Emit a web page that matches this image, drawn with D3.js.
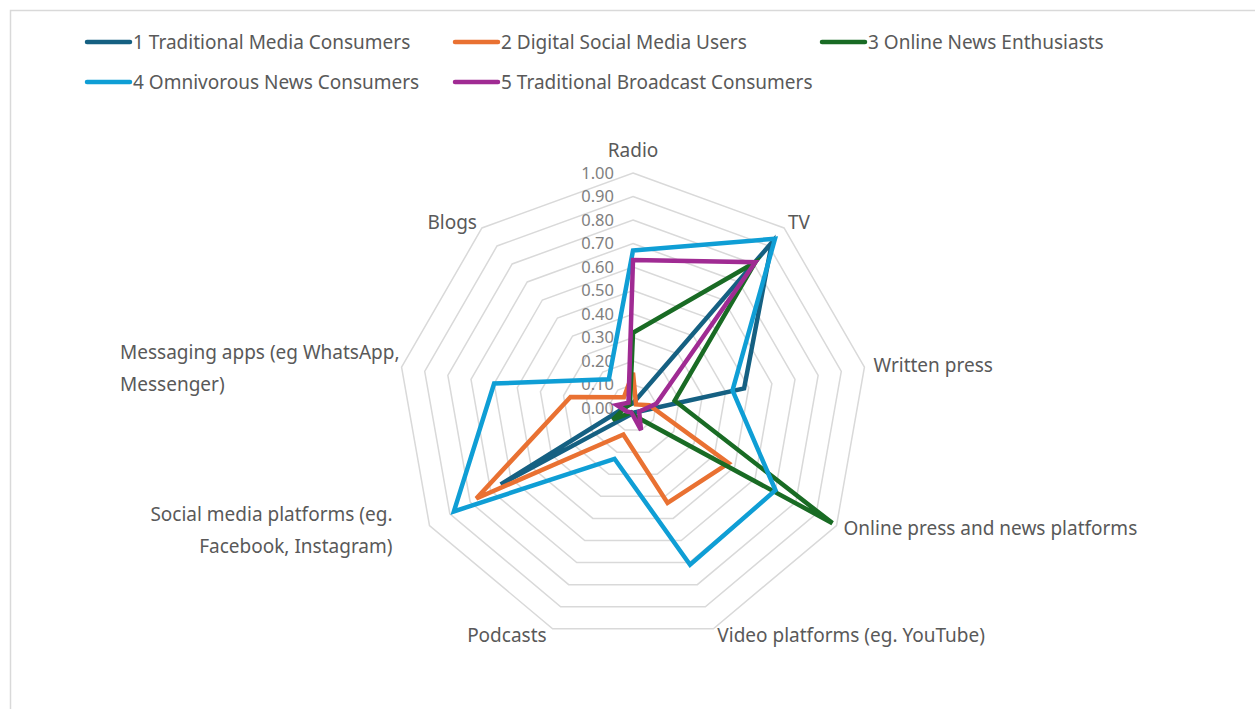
<!DOCTYPE html>
<html>
<head>
<meta charset="utf-8">
<script src="https://cdn.jsdelivr.net/npm/d3@7"></script>
<style>
  body { margin: 0; background: #fff; }
  text { font-family: "Noto Sans", "Open Sans", sans-serif; }
</style>
</head>
<body>
<div id="chart-area"></div>
<script>
// axes, clockwise from the top
var axes = ["Radio", "TV", "Written press", "Online press and news platforms",
  "Video platforms (eg. YouTube)", "Podcasts",
  "Social media platforms (eg.|Facebook, Instagram)",
  "Messaging apps (eg WhatsApp,|Messenger)", "Blogs"];

var seriesNames = ["1 Traditional Media Consumers", "2 Digital Social Media Users",
  "3 Online News Enthusiasts", "4 Omnivorous News Consumers",
  "5 Traditional Broadcast Consumers"];

var tradMedia     = [0.02, 0.92, 0.48, 0.03, 0.02, 0.03, 0.65, 0.03, 0.02];
var digitalSocial = [0.15, 0.02, 0.07, 0.47, 0.43, 0.12, 0.77, 0.27, 0.06];
var onlineNews    = [0.32, 0.81, 0.18, 0.98, 0.04, 0.02, 0.10, 0.03, 0.02];
var omnivorous    = [0.67, 0.94, 0.43, 0.70, 0.71, 0.23, 0.88, 0.60, 0.16];
var tradBroadcast = [0.63, 0.81, 0.10, 0.03, 0.10, 0.02, 0.03, 0.07, 0.03];

var tickValues = [0, 0.1, 0.2, 0.3, 0.4, 0.5, 0.6, 0.7, 0.8, 0.9, 1.0];

var seriesValues = [tradMedia, digitalSocial, onlineNews, omnivorous, tradBroadcast];
var colors = ["#156082", "#E97132", "#196B24", "#0F9ED5", "#A02B93"];

var width = 1255, height = 709;
var cx = 633, cy = 408, R = 235;

var svg = d3.select("#chart-area")
  .append("svg")
    .attr("width", width)
    .attr("height", height);

// chart frame
svg.append("rect")
  .attr("x", 10.5).attr("y", 10.5)
  .attr("width", 1400).attr("height", 900)
  .style("fill", "none")
  .attr("stroke", "#d9d9d9")
  .attr("stroke-width", 1.5);

var r = d3.scaleLinear().domain([0, 1]).range([0, R]);
var angle = d3.scalePoint().domain(d3.range(axes.length)).range([0, 2 * Math.PI * (axes.length - 1) / axes.length]);

var g = svg.append("g").attr("transform", "translate(" + cx + "," + cy + ")");

var radial = d3.lineRadial()
  .angle(function(d, i) { return angle(i); })
  .radius(function(d) { return r(d); })
  .curve(d3.curveLinearClosed);

// grid rings
g.append("g").selectAll("path")
  .data(tickValues.filter(function(t) { return t > 0; }))
  .enter()
  .append("path")
    .attr("d", function(t) { return radial(axes.map(function() { return t; })); })
    .style("fill", "none")
    .attr("stroke", "#d9d9d9")
    .attr("stroke-width", 1.5);

// tick labels
g.append("g").selectAll("text")
  .data(tickValues)
  .enter()
  .append("text")
    .attr("x", -19)
    .attr("y", function(t) { return -r(t); })
    .attr("dy", "0.35em")
    .attr("text-anchor", "end")
    .style("font-size", "16.5px")
    .style("fill", "#7f7f7f")
    .text(function(t) { return t.toFixed(2); });

// series
g.append("g").selectAll("path")
  .data(seriesValues)
  .enter()
  .append("path")
    .attr("d", function(d) { return radial(d); })
    .style("fill", "none")
    .attr("stroke", function(d, i) { return colors[i]; })
    .attr("stroke-width", 4.5)
    .attr("stroke-linejoin", "miter");

// axis labels
var labelTweak = [
  {dx: 0, dy: -23, anchor: "middle", align: "middle"},
  {dx: 4, dy: -6, anchor: "start", align: "start"},
  {dx: 9, dy: -2, anchor: "start", align: "start"},
  {dx: 7, dy: 3, anchor: "start", align: "start"},
  {dx: 4, dy: 7, anchor: "start", align: "start"},
  {dx: -6, dy: 7, anchor: "end", align: "end"},
  {dx: -37, dy: 5, anchor: "end", align: "end"},
  {dx: -2, dy: 1, anchor: "end", align: "start"},
  {dx: -5, dy: -6, anchor: "end", align: "end"}
];

axes.forEach(function(label, i) {
  var a = angle(i);
  var px = Math.sin(a) * R + labelTweak[i].dx;
  var py = -Math.cos(a) * R + labelTweak[i].dy;
  var lines = label.split("|");
  var lh = 32;
  var t = g.append("text")
    .style("font-size", "19px")
    .style("fill", "#595959");
  lines.forEach(function(ln, k) {
    t.append("tspan")
      .attr("x", px)
      .attr("y", py + (k - (lines.length - 1) / 2) * lh)
      .attr("dy", "0.35em")
      .text(ln);
  });
  if (lines.length > 1 && labelTweak[i].align === "start") {
    // right edge of block on px, lines left-aligned
    var widths = t.selectAll("tspan").nodes().map(function(n) { return n.getComputedTextLength(); });
    var w = d3.max(widths);
    t.attr("text-anchor", "start");
    t.selectAll("tspan").attr("x", px - w);
  } else {
    t.attr("text-anchor", labelTweak[i].anchor);
  }
});

// legend
var legend = svg.append("g");
var legendCols = [87, 455, 822];
var legendRows = [42, 82];
seriesNames.forEach(function(name, i) {
  var lx = legendCols[i % 3], ly = legendRows[Math.floor(i / 3)];
  legend.append("line")
    .attr("x1", lx).attr("x2", lx + 43)
    .attr("y1", ly).attr("y2", ly)
    .attr("stroke", colors[i])
    .attr("stroke-width", 4.5)
    .attr("stroke-linecap", "round");
  legend.append("text")
    .attr("x", lx + 46)
    .attr("y", ly)
    .attr("dy", "0.35em")
    .style("font-size", "19px")
    .style("fill", "#595959")
    .text(name);
});
</script>
</body>
</html>
